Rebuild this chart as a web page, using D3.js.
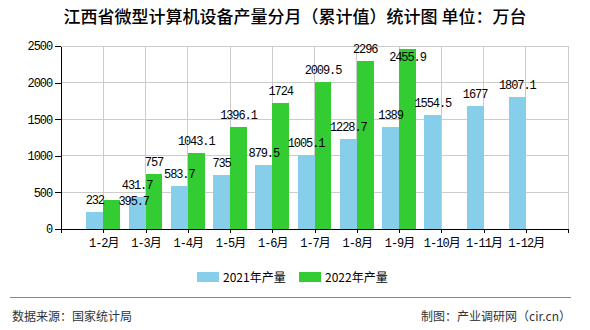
<!DOCTYPE html>
<html>
<head>
<meta charset="utf-8">
<script src="https://cdn.jsdelivr.net/npm/d3@7/dist/d3.min.js"></script>
<style>
  html, body { margin: 0; padding: 0; background: #fff; }
  svg { display: block; }
</style>
</head>
<body>
<svg id="chart" width="590" height="330"></svg>
<script>
// ---- data ----
const categories = ["1-2月","1-3月","1-4月","1-5月","1-6月","1-7月","1-8月","1-9月","1-10月","1-11月","1-12月"];
const values2021 = [232, 431.7, 583.7, 735, 879.5, 1005.1, 1228.7, 1389, 1554.5, 1677, 1807.1];
const values2022 = [395.7, 757, 1043.1, 1396.1, 1724, 2009.5, 2296, 2455.9];
const labels2021 = ["232","431.7","583.7","735","879.5","1005.1","1228.7","1389","1554.5","1677","1807.1"];
const labels2022 = ["395.7","757","1043.1","1396.1","1724","2009.5","2296","2455.9"];
const seriesNames = ["2021年产量", "2022年产量"];
const yTicks = [0, 500, 1000, 1500, 2000, 2500];
const title = "江西省微型计算机设备产量分月（累计值）统计图 单位：万台";
const sourceText = "数据来源：国家统计局";
const creditText = "制图：产业调研网（cir.cn）";

// ---- styling ----
const colors = ["#87CEEB", "#33CC33"];
const monoFont = "'Liberation Mono','DejaVu Sans Mono','Noto Sans CJK SC',monospace";
const cjkFont = "'Noto Sans CJK SC','Liberation Sans',sans-serif";
// label collision nudges (dx, dy) as in the reference
const nudge2021 = {};
const nudge2022 = {0: [22, 12.5], 7: [0, 20]};

const svg = d3.select("#chart");
const W = 590, H = 330;
const plot = {left: 61, right: 568, top: 46, bottom: 229};

const x = d3.scaleLinear().domain([0, categories.length + 1]).range([plot.left, plot.right]);
const step = x(1) - x(0);
const barW = step * 0.4;
const y = d3.scaleLinear().domain([0, 2500]).range([plot.bottom, plot.top]);

// title
svg.append("text")
  .attr("x", W / 2).attr("y", 23)
  .attr("text-anchor", "middle")
  .style("font-family", cjkFont)
  .style("font-size", "17px")
  .style("font-weight", "500")
  .attr("fill", "#000")
  .text(title);

// grid
const grid = svg.append("g").attr("stroke", "#cccccc").attr("stroke-width", 1).attr("shape-rendering", "crispEdges");
yTicks.filter(d => d > 0).forEach(t => {
  grid.append("line").attr("x1", plot.left).attr("x2", plot.right).attr("y1", y(t)).attr("y2", y(t));
});
d3.range(1, categories.length + 2).forEach(i => {
  grid.append("line").attr("x1", x(i)).attr("x2", x(i)).attr("y1", plot.top).attr("y2", plot.bottom);
});

// bars
const g = svg.append("g").attr("shape-rendering", "crispEdges");
g.selectAll("rect.s2021").data(values2021).join("rect")
  .attr("class", "s2021")
  .attr("x", (d, i) => x(i + 1) - barW)
  .attr("width", barW)
  .attr("y", d => y(d))
  .attr("height", d => y(0) - y(d))
  .attr("fill", colors[0]);
g.selectAll("rect.s2022").data(values2022).join("rect")
  .attr("class", "s2022")
  .attr("x", (d, i) => x(i + 1))
  .attr("width", barW)
  .attr("y", d => y(d))
  .attr("height", d => y(0) - y(d))
  .attr("fill", colors[1]);

// value labels
function addLabels(vals, labels, offset, nudge) {
  svg.append("g").selectAll("text").data(vals).join("text")
    .attr("x", (d, i) => x(i + 1) + offset + (nudge[i] ? nudge[i][0] : 0))
    .attr("y", (d, i) => y(d) - 8 + (nudge[i] ? nudge[i][1] : 0))
    .attr("text-anchor", "middle")
    .style("font-family", monoFont)
    .style("font-size", "12px")
    .style("letter-spacing", "-1.1px")
    .attr("fill", "#000")
    .text((d, i) => labels[i]);
}
addLabels(values2021, labels2021, -barW / 2, nudge2021);
addLabels(values2022, labels2022, barW / 2, nudge2022);

// y axis
const yAxis = d3.axisLeft(y).tickValues(yTicks).tickFormat(d3.format("d")).tickSize(6).tickSizeOuter(0).tickPadding(3);
const ya = svg.append("g").attr("transform", `translate(${plot.left},0)`).call(yAxis);
ya.selectAll("text").style("font-family", monoFont).style("font-size", "12px").style("letter-spacing", "-1.1px").attr("fill", "#000");
ya.selectAll("line, path").attr("stroke", "#000").attr("shape-rendering", "crispEdges");

// x axis
const xAxis = d3.axisBottom(x)
  .tickValues(d3.range(0, categories.length + 2))
  .tickFormat(i => (i >= 1 && i <= categories.length) ? categories[i - 1] : "")
  .tickSize(4).tickSizeOuter(0).tickPadding(5);
const xa = svg.append("g").attr("transform", `translate(0,${plot.bottom})`).call(xAxis);
xa.selectAll("text").style("font-family", monoFont).style("font-size", "12px").style("letter-spacing", "-1px").attr("fill", "#000");
xa.selectAll("line, path").attr("stroke", "#000").attr("shape-rendering", "crispEdges");

// legend
const legend = svg.append("g");
const legendItems = [{x: 197, name: seriesNames[0], c: colors[0]}, {x: 299, name: seriesNames[1], c: colors[1]}];
legendItems.forEach(it => {
  legend.append("rect").attr("x", it.x).attr("y", 272).attr("width", 22).attr("height", 10).attr("fill", it.c);
  legend.append("text").attr("x", it.x + 26).attr("y", 281.5)
    .style("font-family", cjkFont).style("font-size", "12px").attr("fill", "#000").text(it.name);
});

// footer
svg.append("line").attr("x1", 10).attr("x2", 571).attr("y1", 297.5).attr("y2", 297.5)
  .attr("stroke", "#888").attr("stroke-width", 1);
svg.append("text").attr("x", 12).attr("y", 321)
  .style("font-family", cjkFont).style("font-size", "12px").attr("fill", "#333").text(sourceText);
svg.append("text").attr("x", 571).attr("y", 321).attr("text-anchor", "end")
  .style("font-family", cjkFont).style("font-size", "12px").attr("fill", "#333").text(creditText);
</script>
</body>
</html>
